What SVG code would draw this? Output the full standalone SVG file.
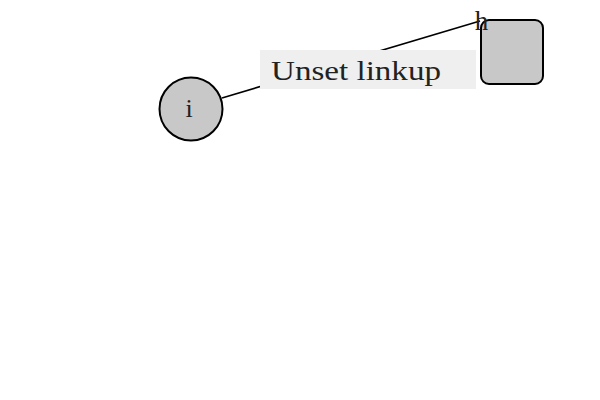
<svg xmlns="http://www.w3.org/2000/svg" width="600" height="400" viewBox="0 0 600 400">
<style>
.node{fill:#c8c8c8;stroke:#000;stroke-width:2}
.lbl{font-family:"Liberation Serif","DejaVu Serif",serif;fill:#222}
.edge{stroke:#000;stroke-width:1.6;fill:none}
</style>
<rect width="600" height="400" fill="#fff"/>
<g id="connectors">
<line class="edge" x1="222" y1="98" x2="480" y2="21"/>
<rect x="260" y="50" width="216" height="39" fill="#efefef"/>
<text class="lbl" x="271" y="80" font-size="28" textLength="170" lengthAdjust="spacingAndGlyphs">Unset linkup</text>
</g>
<g id="node-i">
<circle class="node" cx="191" cy="109" r="31.5"/>
<text class="lbl" x="189" y="117" font-size="26" text-anchor="middle">i</text>
</g>
<g id="node-h">
<rect class="node" x="481" y="20" width="62" height="64" rx="8"/>
<text class="lbl" x="481.5" y="30" font-size="27" text-anchor="middle">h</text>
</g>
</svg>
